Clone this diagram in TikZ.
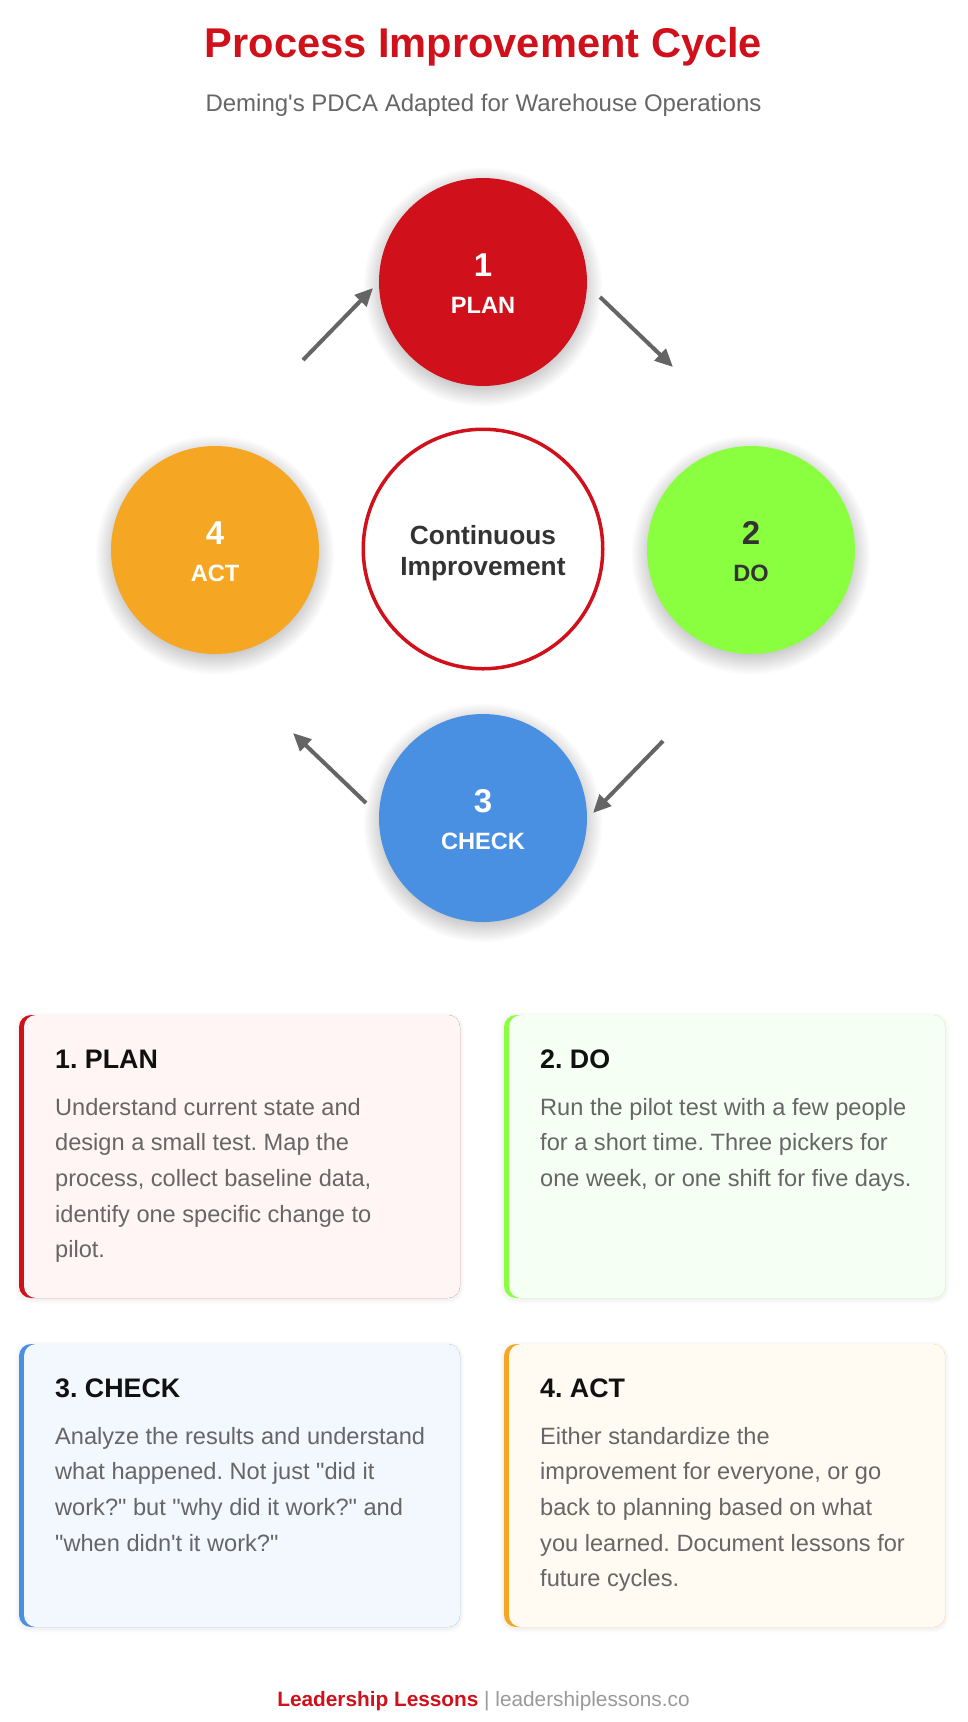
\documentclass[tikz,border=0pt]{standalone}
\usepackage{fontspec}
\setmainfont{Liberation Sans}[Ligatures=TeXOff]
\usetikzlibrary{arrows.meta}
\definecolor{pdred}{HTML}{D0111B}
\definecolor{pdgreen}{HTML}{8AFF40}
\definecolor{pdblue}{HTML}{4A90E2}
\definecolor{pdorange}{HTML}{F5A623}
\definecolor{bgred}{HTML}{FFF5F5}
\definecolor{bggreen}{HTML}{F6FFF3}
\definecolor{bgblue}{HTML}{F3F7FE}
\definecolor{bgorange}{HTML}{FFFBF3}
\definecolor{arrowgray}{HTML}{656565}
\definecolor{bodygray}{HTML}{666666}
\definecolor{darktext}{HTML}{333333}
\definecolor{headtext}{HTML}{111111}
\definecolor{footgray}{HTML}{999999}
\newcommand{\pdcashadow}[1]{%
  \foreach \k in {0,...,12} {\fill[black,fill opacity=0.015] ([yshift=-5pt]#1) circle[radius={(100+1.6*\k)*1pt}];}%
}
\newcommand{\pdcacard}[7]{%
  \foreach \k in {1,...,4} {\fill[black,fill opacity=0.010,rounded corners={(12+\k)*1pt}] ({#2-\k},{#3-\k+1.5}) rectangle ({#2+441+\k},{#3+283+\k+1.5});}%
  \fill[#4,rounded corners=12pt] ({#2},{#3}) rectangle ({#2+441},{#3+283});
  \fill[#5,rounded corners=12pt] ({#2+5},{#3}) rectangle ({#2+441},{#3+283});
  \node[cardtitle] (#1title) at ({#2+36},{#3+53}) {#6};
  \node[cardbody] (#1body) at ({#2+36},{#3+100}) {\parbox[t]{400pt}{\raggedright #7}};
}
\begin{document}
\frenchspacing
\begin{tikzpicture}[x=1pt,y=-1pt,
  stepcircle/.style={circle,minimum size=208pt,inner sep=0pt},
  numlbl/.style={anchor=base,inner sep=0pt,font=\fontsize{33}{40}\selectfont\bfseries},
  steplbl/.style={anchor=base,inner sep=0pt,font=\fontsize{23.6}{28}\selectfont\bfseries},
  cyclearrow/.style={draw=arrowgray,line width=4pt,-{Triangle[length=18pt,width=16pt]}},
  cardtitle/.style={anchor=base west,inner sep=0pt,text=headtext,font=\fontsize{26.8}{30}\selectfont\bfseries},
  cardbody/.style={anchor=base west,inner sep=0pt,text=bodygray,font=\fontsize{23.6}{35.7}\selectfont\frenchspacing}]
\useasboundingbox (0,0) rectangle (967,1722);
\fill[white] (0,0) rectangle (967,1722);

% title
\node[anchor=base,inner sep=0pt,text=pdred,font=\fontsize{41.6}{48}\selectfont\bfseries] (title) at (483.5,57) {Process Improvement Cycle};
\node[anchor=base,inner sep=0pt,text=bodygray,font=\fontsize{24}{28}\selectfont] (subtitle) at (483.5,111) {Deming's PDCA Adapted for Warehouse Operations};

% circle centres and soft shadows
\coordinate (planc) at (483,282);
\coordinate (doc) at (751,550);
\coordinate (checkc) at (483,818);
\coordinate (actc) at (215,550);
\pdcashadow{planc}
\pdcashadow{doc}
\pdcashadow{checkc}
\pdcashadow{actc}

% cycle circles
\node[stepcircle,fill=pdred] (plan) at (planc) {};
\node[stepcircle,fill=pdgreen] (do) at (doc) {};
\node[stepcircle,fill=pdblue] (check) at (checkc) {};
\node[stepcircle,fill=pdorange] (act) at (actc) {};
\node[circle,draw=pdred,line width=3.5pt,fill=white,minimum size=239.5pt,inner sep=0pt] (center) at (483,549) {};

\node[numlbl,text=white] (plannum) at ([yshift=6pt]plan.center) {1};
\node[steplbl,text=white] (planlbl) at ([yshift=-31pt]plan.center) {PLAN};
\node[numlbl,text=darktext] (donum) at ([yshift=6pt]do.center) {2};
\node[steplbl,text=darktext] (dolbl) at ([yshift=-31pt]do.center) {DO};
\node[numlbl,text=white] (checknum) at ([yshift=6pt]check.center) {3};
\node[steplbl,text=white] (checklbl) at ([yshift=-31pt]check.center) {CHECK};
\node[numlbl,text=white] (actnum) at ([yshift=6pt]act.center) {4};
\node[steplbl,text=white] (actlbl) at ([yshift=-31pt]act.center) {ACT};

\node[anchor=base,inner sep=0pt,text=darktext,font=\fontsize{26.3}{31}\selectfont\bfseries] (centertext) at (483,544)
  {\parbox[t]{240pt}{\centering Continuous\\Improvement}};

% arrows
\coordinate (a1s) at (303,360); \coordinate (a1e) at (373,288);
\coordinate (a2s) at (600,297); \coordinate (a2e) at (673,367);
\coordinate (a3s) at (663,741); \coordinate (a3e) at (593,813);
\coordinate (a4s) at (366,803); \coordinate (a4e) at (293,733);
\draw[cyclearrow] (a1s) -- (a1e);
\draw[cyclearrow] (a2s) -- (a2e);
\draw[cyclearrow] (a3s) -- (a3e);
\draw[cyclearrow] (a4s) -- (a4e);

% cards
\pdcacard{plancard}{19}{1015}{pdred}{bgred}{1. PLAN}{Understand current state and\\design a small test. Map the\\process, collect baseline data,\\identify one specific change to\\pilot.}
\pdcacard{docard}{504}{1015}{pdgreen}{bggreen}{2. DO}{Run the pilot test with a few people\\for a short time. Three pickers for\\one week, or one shift for five days.}
\pdcacard{checkcard}{19}{1344}{pdblue}{bgblue}{3. CHECK}{Analyze the results and understand\\what happened. Not just "did it\\work?" but "why did it work?" and\\"when didn't it work?"}
\pdcacard{actcard}{504}{1344}{pdorange}{bgorange}{4. ACT}{Either standardize the\\improvement for everyone, or go\\back to planning based on what\\you learned. Document lessons for\\future cycles.}

% footer
\node[anchor=base,inner sep=0pt,font=\fontsize{20.8}{25}\selectfont] (footer) at (483.5,1706)
  {\textcolor{pdred}{\bfseries Leadership Lessons} \textcolor{footgray}{| leadershiplessons.co}};
\end{tikzpicture}
\end{document}
